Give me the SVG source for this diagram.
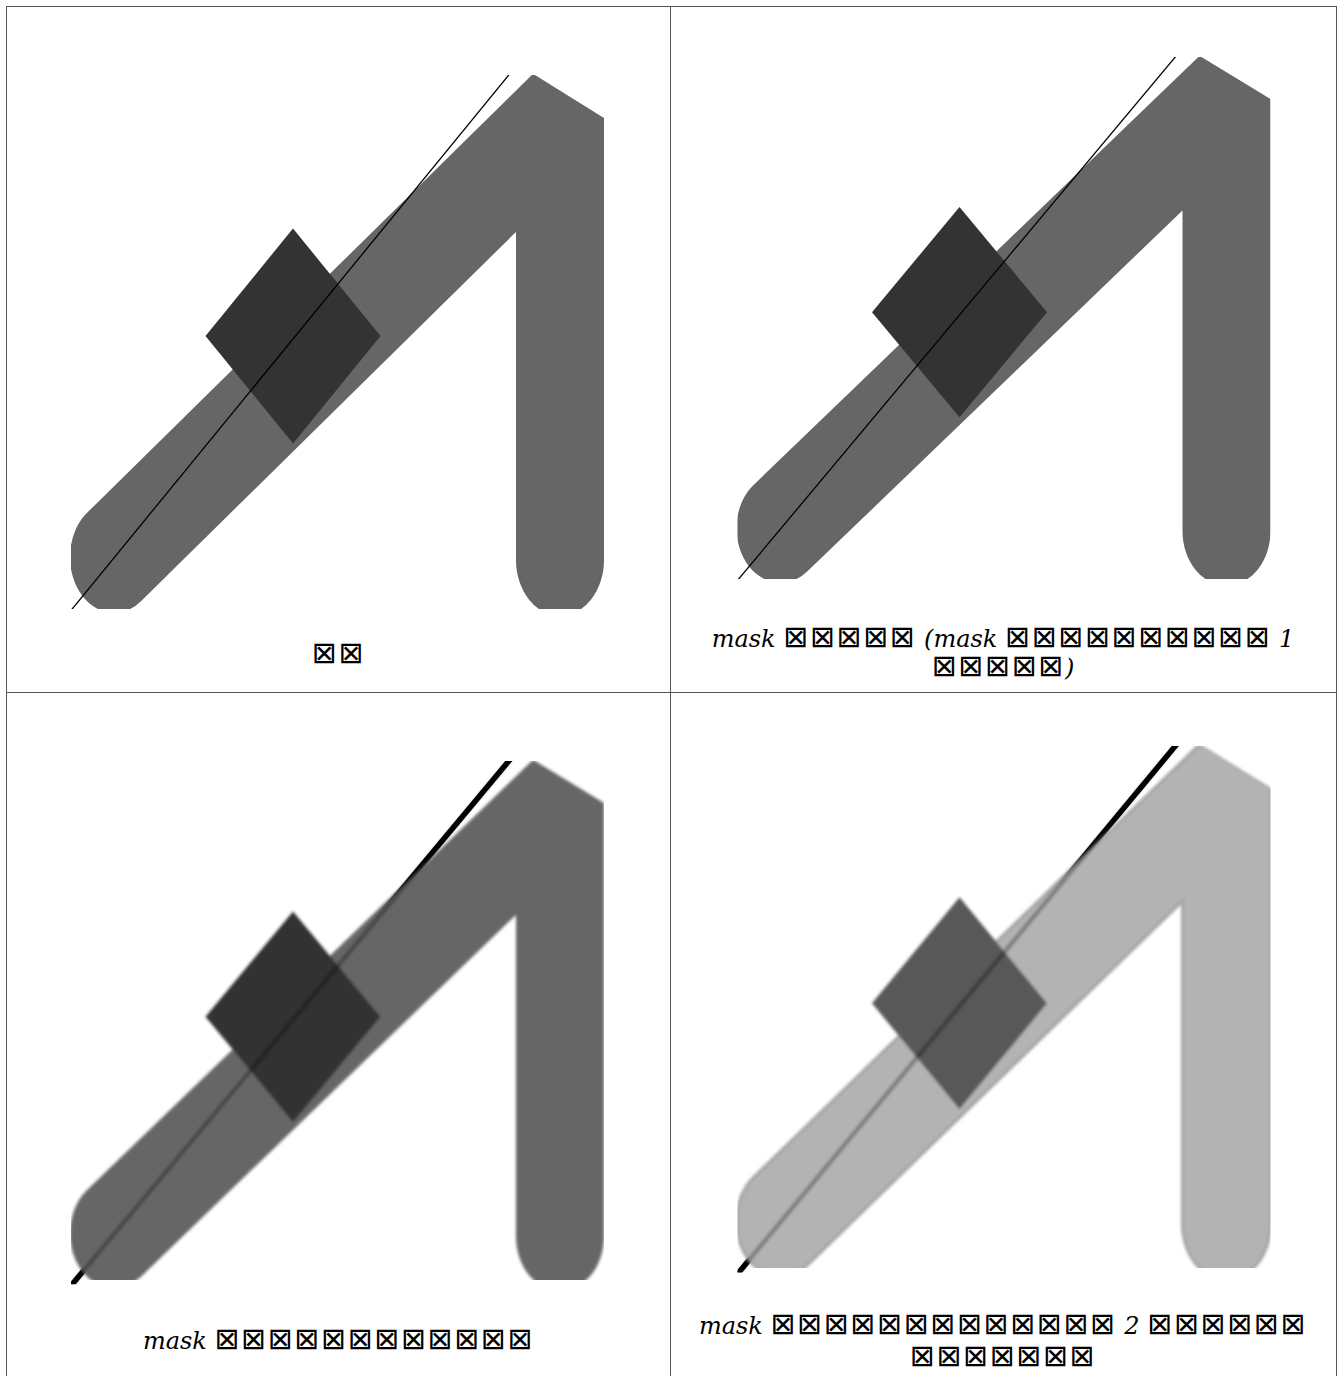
<svg xmlns="http://www.w3.org/2000/svg" xmlns:xlink="http://www.w3.org/1999/xlink" width="1343" height="1376" viewBox="0 0 1343 1376">
<style>
.grid{fill:none;stroke:#555;stroke-width:1}
.band{fill:none;stroke:#666;stroke-width:88;stroke-linecap:round;stroke-linejoin:bevel}
.sq{fill:#333}
.thin{fill:none;stroke:#000;stroke-width:1.3}
.lbl{font-family:"DejaVu Serif","DejaVu Sans",serif;font-size:24px;font-style:italic;fill:#000;text-anchor:middle}
.box{font-family:"DejaVu Sans",sans-serif;font-style:normal;font-size:30px;letter-spacing:1.5px}
</style>
<defs>
<clipPath id="clip"><rect x="71" y="75" width="533" height="534"/></clipPath>
<filter id="soft" x="-10%" y="-10%" width="120%" height="120%"><feGaussianBlur stdDeviation="1.5"/></filter>
<filter id="soft2" x="-10%" y="-10%" width="120%" height="120%"><feGaussianBlur stdDeviation="0.7"/></filter>
<path id="bandpath" d="M114,438.6 L560,92.9 L560,440.9"/>
<polygon id="sqshape" points="293,228.5 380.5,336 293,443.5 205.5,336"/>
<path id="ln" d="M60,623.9 L520,61.3"/>
</defs>

<g id="grid">
<rect class="grid" x="6.5" y="6.5" width="1330" height="1380"/>
<line class="grid" x1="670.5" y1="6.5" x2="670.5" y2="1376"/>
<line class="grid" x1="6.5" y1="692.5" x2="1336.5" y2="692.5"/>
</g>

<g id="cell1">
<g clip-path="url(#clip)">
<use xlink:href="#bandpath" class="band" transform="scale(1,1.27)"/>
<use xlink:href="#sqshape" class="sq"/>
<use xlink:href="#ln" class="thin"/>
</g>
<text class="lbl" x="338.5" y="663"><tspan class="box">⊠⊠</tspan></text>
</g>

<g id="cell2">
<g transform="translate(666.5,57) scale(1,0.9775) translate(0,-75)">
<g clip-path="url(#clip)">
<use xlink:href="#bandpath" class="band" transform="scale(1,1.27)"/>
<use xlink:href="#sqshape" class="sq"/>
<use xlink:href="#ln" class="thin"/>
</g>
</g>
<text class="lbl" x="1003" y="647">mask <tspan class="box">⊠⊠⊠⊠⊠</tspan> (mask <tspan class="box">⊠⊠⊠⊠⊠⊠⊠⊠⊠⊠</tspan> 1</text>
<text class="lbl" x="1003" y="676"><tspan class="box">⊠⊠⊠⊠⊠</tspan>)</text>
</g>

<g id="cell3">
<g transform="translate(0,761) scale(1,0.98) translate(0,-75)">
<g clip-path="url(#clip)">
<use xlink:href="#ln" fill="none" stroke="#000" stroke-width="5.5" filter="url(#soft2)"/>
<g filter="url(#soft)">
<use xlink:href="#bandpath" class="band" transform="scale(1,1.27)"/>
<use xlink:href="#sqshape" class="sq"/>
</g>
<use xlink:href="#ln" fill="none" stroke="#000" stroke-width="4" opacity="0.3" filter="url(#soft)"/>
</g>
</g>
<text class="lbl" x="338.5" y="1349">mask <tspan class="box">⊠⊠⊠⊠⊠⊠⊠⊠⊠⊠⊠⊠</tspan></text>
</g>

<g id="cell4">
<g transform="translate(666.5,746) scale(1,0.986) translate(0,-75)">
<g clip-path="url(#clip)">
<use xlink:href="#ln" fill="none" stroke="#000" stroke-width="5.5" filter="url(#soft2)"/>
<g filter="url(#soft)">
<use xlink:href="#bandpath" class="band" style="stroke:#a6a6a6;stroke-width:91" transform="scale(1,1.27)"/>
<use xlink:href="#bandpath" class="band" style="stroke:#b3b3b3;stroke-width:85" transform="scale(1,1.27)"/>
<use xlink:href="#sqshape" style="fill:#595959"/>
</g>
<use xlink:href="#ln" fill="none" stroke="#000" stroke-width="4" opacity="0.3" filter="url(#soft)"/>
</g>
</g>
<text class="lbl" x="1003" y="1334">mask <tspan class="box">⊠⊠⊠⊠⊠⊠⊠⊠⊠⊠⊠⊠⊠</tspan> 2 <tspan class="box">⊠⊠⊠⊠⊠⊠</tspan></text>
<text class="lbl" x="1003" y="1366"><tspan class="box">⊠⊠⊠⊠⊠⊠⊠</tspan></text>
</g>
</svg>
